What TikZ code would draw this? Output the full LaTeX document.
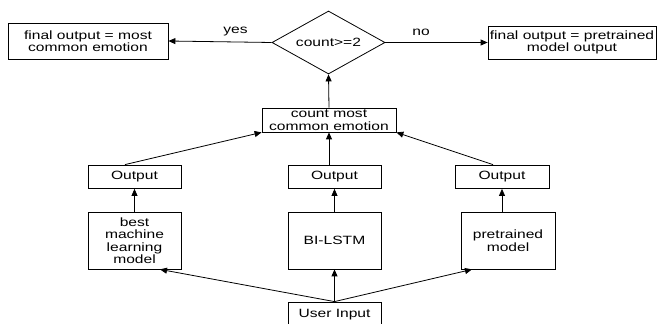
\documentclass[tikz,border=0pt]{standalone}
\usepackage{fontspec}
\setmainfont{Liberation Sans}[FakeStretch=1.3]
\usetikzlibrary{shapes,arrows.meta,positioning}

\begin{document}
\begin{tikzpicture}[x=1pt,y=1pt,
  box/.style={draw, rectangle, line width=0.8pt, inner sep=0pt, align=center, font=\fontsize{12}{12.5}\selectfont},
  flow/.style={-{Triangle[length=7pt,width=6pt]}, line width=0.8pt}]
\useasboundingbox (0,0) rectangle (657,324);
\fontsize{12}{12.5}\selectfont
% decision at the top
\node[draw, diamond, line width=0.8pt, aspect=1.8, minimum width=113, minimum height=63, inner sep=0pt] (check) at (328.5,281.5) {count>=2};
% the two results
\node[box, minimum width=160, minimum height=36] (common) at (88,283) {final output = most\\common emotion};
\node[box, minimum width=168, minimum height=33] (pretr) at (572,281.5) {final output = pretrained\\model output};
% vote
\node[box, minimum width=134, minimum height=24] (count) at (329,204) {count most\\common emotion};
% outputs of the three models
\node[box, minimum width=93, minimum height=23.5] (outA) at (134.5,147.25) {Output};
\node[box, minimum width=93, minimum height=23.5] (outB) at (334.5,147.25) {Output};
\node[box, minimum width=94, minimum height=23.5] (outC) at (502,147.25) {Output};
% the three models
\node[box, minimum width=93, minimum height=57] (modA) at (134.5,83.5) {best\\machine\\learning\\model};
\node[box, minimum width=93, minimum height=57] (modB) at (334.5,83.5) {BI-LSTM};
\node[box, minimum width=94, minimum height=57] (modC) at (508,83.5) {pretrained\\model};
% input
\node[box, minimum width=93, minimum height=25] (user) at (334.5,9.5) {User Input};
% connectors
\draw[flow] (check.west) -- node[pos=0.35, above=2pt] {yes} (common.east);
\draw[flow] (check.east) -- node[pos=0.35, above=2pt] {no} (pretr.west);
\draw[flow] (count.north) -- (check.south);
\draw[flow] ([xshift=-9.5pt]outA.north) -- (count.south west);
\draw[flow] (count.south |- outB.north) -- (count.south);
\draw[flow] ([xshift=-9pt]outC.north) -- (count.south east);
\draw[flow] (modA.north) -- (outA.south);
\draw[flow] (modB.north) -- (outB.south);
\draw[flow] (outC.south |- modC.north) -- (outC.south);
\draw[flow] (user.north) -- ([xshift=25.5pt]modA.south);
\draw[flow] (user.north) -- (modB.south);
\draw[flow] (user.north) -- ([xshift=-36pt]modC.south);
\end{tikzpicture}
\end{document}
